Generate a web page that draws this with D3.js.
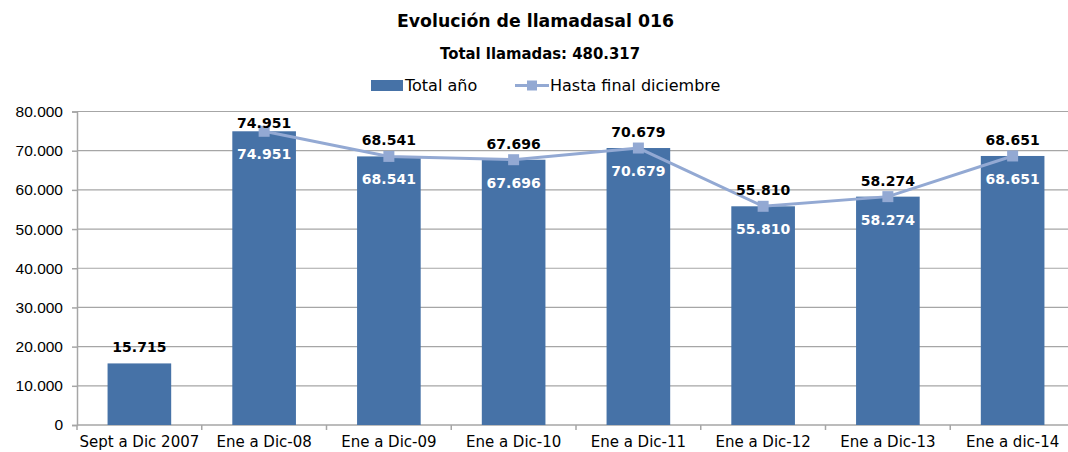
<!DOCTYPE html>
<html>
<head>
<meta charset="utf-8">
<script src="https://cdn.jsdelivr.net/npm/d3@7"></script>
<style>
  body { margin: 0; background: #fff; }
  svg { display: block; font-family: "Century Gothic", "DejaVu Sans", sans-serif; }
</style>
</head>
<body>
<div id="chart"></div>
<script>
const categories = ["Sept a Dic 2007", "Ene a Dic-08", "Ene a Dic-09", "Ene a Dic-10",
  "Ene a Dic-11", "Ene a Dic-12", "Ene a Dic-13", "Ene a dic-14"];
const totalAnio = [15715, 74951, 68541, 67696, 70679, 55810, 58274, 68651];
const hastaDiciembre = [null, 74951, 68541, 67696, 70679, 55810, 58274, 68651];
const yTicks = [0, 10000, 20000, 30000, 40000, 50000, 60000, 70000, 80000];

const width = 1068, height = 452;
const margin = { top: 111.5, right: -7, bottom: 27, left: 77 };
const BAR = '#4672A7', LINE = '#93A9D3', GRID = '#A6A6A6';

const fmt = v => d3.format(',')(v).replace(/,/g, '.');

const svg = d3.select('#chart').append('svg')
  .attr('width', width)
  .attr('height', height);

const x = d3.scaleBand()
  .domain(categories)
  .range([margin.left, width - margin.right])
  .paddingInner(0.49)
  .paddingOuter(0.245);

const y = d3.scaleLinear()
  .domain([0, 80000])
  .range([height - margin.bottom, margin.top]);

// titles
svg.append('text')
  .attr('x', 397).attr('y', 27)
  .attr('textLength', 277).attr('lengthAdjust', 'spacingAndGlyphs')
  .style('font-size', '18px').style('font-weight', 'bold')
  .text('Evolución de llamadasal 016');

svg.append('text')
  .attr('x', 440).attr('y', 59)
  .attr('textLength', 200).attr('lengthAdjust', 'spacingAndGlyphs')
  .style('font-size', '16.5px').style('font-weight', 'bold')
  .text('Total llamadas: 480.317');

// legend
let legend = svg.append('g').style('font-size', '16px');
legend.append('rect').attr('x', 371).attr('y', 80).attr('width', 32).attr('height', 11).attr('fill', BAR);
legend.append('text').attr('x', 405).attr('y', 91).text('Total año');
legend.append('line').attr('x1', 515).attr('x2', 549).attr('y1', 85.5).attr('y2', 85.5)
  .attr('stroke', LINE).attr('stroke-width', 3);
legend.append('rect').attr('x', 527).attr('y', 80.5).attr('width', 10).attr('height', 10).attr('fill', LINE);
legend.append('text').attr('x', 550).attr('y', 91).text('Hasta final diciembre');

// grid
svg.append('g')
  .selectAll('line')
  .data(yTicks.slice(1))
  .enter().append('line')
    .attr('x1', margin.left).attr('x2', width)
    .attr('y1', d => y(d)).attr('y2', d => y(d))
    .attr('stroke', GRID).attr('stroke-width', 1.2);

// y axis
let yAxis = svg.append('g')
  .attr('transform', 'translate(' + margin.left + ',0)')
  .call(d3.axisLeft(y).tickValues(yTicks).tickFormat(fmt).tickSize(5).tickPadding(9));
yAxis.selectAll('path, line').attr('stroke', GRID).attr('stroke-width', 1.5);
yAxis.selectAll('text').style('font-size', '15.5px').style('font-family', null).attr('fill', '#000');

// x axis
let xAxis = svg.append('g')
  .attr('transform', 'translate(0,' + y(0) + ')');
xAxis.append('line')
  .attr('x1', margin.left).attr('x2', width)
  .attr('stroke', GRID).attr('stroke-width', 1.5);
xAxis.selectAll('.tick')
  .data(categories)
  .enter().append('line')
    .attr('x1', d => x(d) - x.step() * x.paddingOuter())
    .attr('x2', d => x(d) - x.step() * x.paddingOuter())
    .attr('y1', 0).attr('y2', 5)
    .attr('stroke', GRID).attr('stroke-width', 1.5);
xAxis.selectAll('text')
  .data(categories)
  .enter().append('text')
    .attr('x', d => x(d) + x.bandwidth() / 2)
    .attr('y', 22)
    .attr('text-anchor', 'middle')
    .style('font-size', '15px')
    .text(d => d);

// bars
svg.append('g')
  .selectAll('rect')
  .data(totalAnio)
  .enter().append('rect')
    .attr('x', (d, i) => x(categories[i]))
    .attr('y', d => y(d))
    .attr('width', x.bandwidth())
    .attr('height', d => y(0) - y(d))
    .attr('fill', BAR);

// line
const linePts = hastaDiciembre.map((v, i) => ({ cat: categories[i], v: v })).filter(d => d.v != null);
const line = d3.line()
  .x(d => x(d.cat) + x.bandwidth() / 2)
  .y(d => y(d.v));

svg.append('path')
  .datum(linePts)
  .attr('d', line)
  .attr('fill', 'none')
  .attr('stroke', LINE)
  .attr('stroke-width', 3);

svg.append('g')
  .selectAll('rect')
  .data(linePts)
  .enter().append('rect')
    .attr('x', d => x(d.cat) + x.bandwidth() / 2 - 5.5)
    .attr('y', d => y(d.v) - 5.5)
    .attr('width', 11).attr('height', 11)
    .attr('fill', LINE);

// labels: white inside bars (where line exists), black above
svg.append('g')
  .selectAll('text')
  .data(linePts)
  .enter().append('text')
    .attr('x', d => x(d.cat) + x.bandwidth() / 2)
    .attr('y', d => y(d.v) + 28)
    .attr('text-anchor', 'middle')
    .attr('fill', '#fff')
    .style('font-size', '14px').style('font-weight', 'bold')
    .text(d => fmt(d.v));

svg.append('g')
  .selectAll('text')
  .data(totalAnio)
  .enter().append('text')
    .attr('x', (d, i) => x(categories[i]) + x.bandwidth() / 2)
    .attr('y', d => Math.max(128, y(d) - 11))
    .attr('text-anchor', 'middle')
    .attr('fill', '#000')
    .style('font-size', '14px').style('font-weight', 'bold')
    .text(d => fmt(d));
</script>
</body>
</html>
